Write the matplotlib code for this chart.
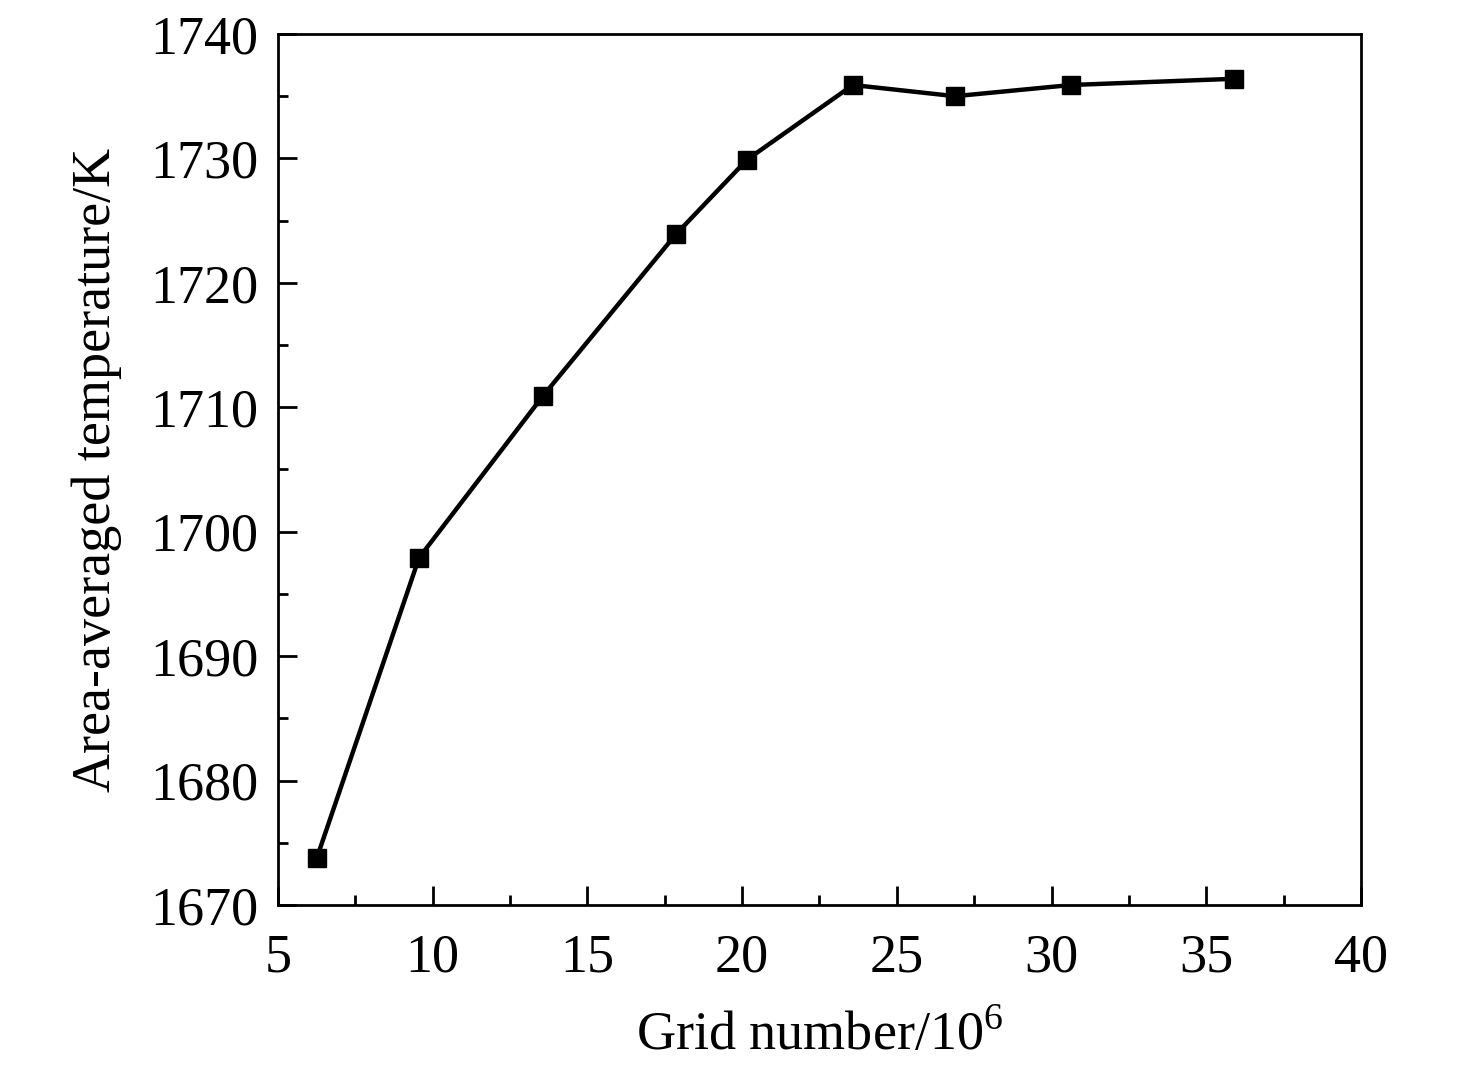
import matplotlib
matplotlib.use("Agg")
import matplotlib.pyplot as plt
from matplotlib.ticker import MultipleLocator

plt.rcParams['font.family'] = ['Liberation Serif', 'DejaVu Serif']
plt.rcParams['mathtext.fontset'] = 'custom'
plt.rcParams['mathtext.rm'] = 'Liberation Serif'

# grid number (10^6) vs area-averaged temperature (K)
grid_num = [6.26, 9.56, 13.56, 17.86, 20.16, 23.58, 26.88, 30.63, 35.9]
temp = [1673.8, 1697.9, 1710.9, 1723.9, 1729.9, 1735.9, 1735.0, 1735.9, 1736.4]

fig = plt.figure(figsize=(14.76, 10.72), dpi=100)
ax = fig.add_axes([0.1883, 0.1558, 0.7338, 0.8125])

ax.plot(grid_num, temp, color='black', lw=3.2, marker='s', ms=13.5)

ax.set_xlim(5, 40)
ax.set_ylim(1670, 1740)
ax.xaxis.set_major_locator(MultipleLocator(5))
ax.xaxis.set_minor_locator(MultipleLocator(2.5))
ax.yaxis.set_major_locator(MultipleLocator(10))
ax.yaxis.set_minor_locator(MultipleLocator(5))
ax.tick_params(which='both', direction='in', top=False, right=False, labelsize=39, width=2)
ax.tick_params(which='major', length=14)
ax.tick_params(which='minor', length=7)
ax.tick_params(axis='x', pad=20)
ax.tick_params(axis='y', pad=14)
for s in ax.spines.values():
    s.set_linewidth(2)

ax.set_xlabel('Grid number/10$^6$', fontsize=39, labelpad=20)
ax.set_ylabel('Area-averaged temperature/K', fontsize=39, labelpad=20)

fig.savefig('out.png', dpi=100)
